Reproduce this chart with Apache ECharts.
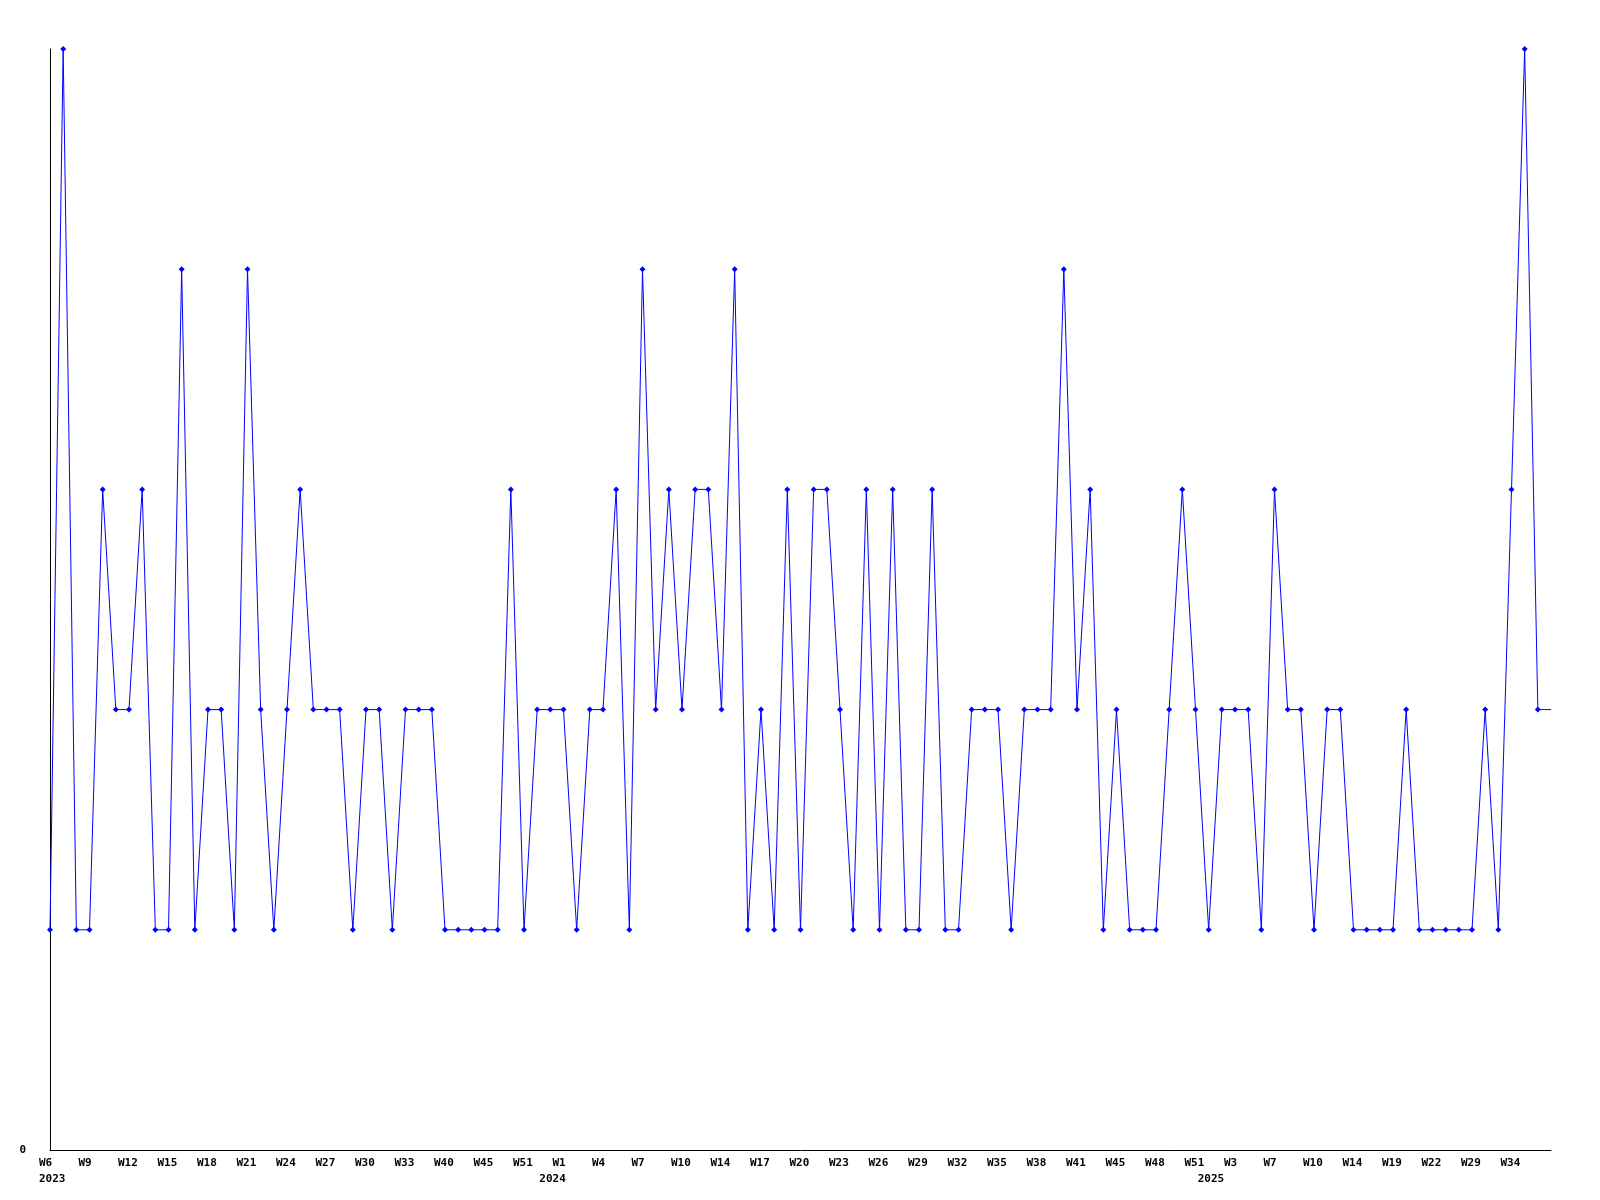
<!DOCTYPE html>
<html>
<head>
<meta charset="utf-8">
<script src="https://cdn.jsdelivr.net/npm/echarts@6/dist/echarts.min.js"></script>
<style>
html,body{margin:0;padding:0;background:#fff;}
#chart{width:1600px;height:1200px;}
</style>
</head>
<body>
<div id="chart"></div>
<script>
// Week labels for each data point (only every third one, plus year starts, is printed)
var weeks = [
  'W6','W7','W8','W9','W10','W11','W12','W13','W14','W15',
  'W16','W17','W18','W19','W20','W21','W22','W23','W24','W25',
  'W26','W27','W28','W29','W30','W31','W32','W33','W35','W38',
  'W40','W42','W44','W45','W47','W49','W51','W52','W0','W1',
  'W2','W3','W4','W5','W6','W7','W8','W9','W10','W11',
  'W13','W14','W15','W16','W17','W18','W19','W20','W21','W22',
  'W23','W24','W25','W26','W27','W28','W29','W30','W31','W32',
  'W33','W34','W35','W36','W37','W38','W39','W40','W41','W42',
  'W44','W45','W46','W47','W48','W49','W50','W51','W0','W2',
  'W3','W5','W6','W7','W8','W9','W10','W12','W13','W14',
  'W16','W18','W19','W20','W21','W22','W25','W27','W29','W31',
  'W33','W34','W35','W36','W37'
];
// Year label printed under specific points
var yearIndex = [0, 38, 88];
var yearLabel = ['2023', '2024', '2025'];
// Weekly counts
var counts = [
  1,5,1,1,3,2,2,3,1,1,
  4,1,2,2,1,4,2,1,2,3,
  2,2,2,1,2,2,1,2,2,2,
  1,1,1,1,1,3,1,2,2,2,
  1,2,2,3,1,4,2,3,2,3,
  3,2,4,1,2,1,3,1,3,3,
  2,1,3,1,3,1,1,3,1,1,
  2,2,2,1,2,2,2,4,2,3,
  1,2,1,1,1,2,3,2,1,2,
  2,2,1,3,2,2,1,2,2,1,
  1,1,1,2,1,1,1,1,1,2,
  1,3,5,2,2
];

var lastIdx = counts.length - 1;
var seriesData = counts.map(function (v, i) {
  return i === lastIdx ? {value: v, symbol: 'none'} : v;
});

function showWeek(idx) { return idx % 3 === 0 && idx < lastIdx; }

var chart = echarts.init(document.getElementById('chart'), null, {renderer: 'canvas'});
chart.setOption({
  animation: false,
  backgroundColor: '#ffffff',
  grid: {left: 50, right: 49, top: 49, bottom: 50, containLabel: false},
  xAxis: {
    type: 'category',
    data: weeks,
    boundaryGap: false,
    axisLine: {show: true, lineStyle: {color: '#000', width: 1}},
    axisTick: {show: false},
    splitLine: {show: false},
    axisLabel: {
      interval: function (idx) {
        return showWeek(idx) || yearIndex.indexOf(idx) >= 0;
      },
      hideOverlap: false,
      margin: 5,
      formatter: function (val, idx) {
        var yi = yearIndex.indexOf(idx);
        var top = showWeek(idx) ? '{w|' + val + '}' : '{w| }';
        return yi >= 0 ? top + '\n{w|' + yearLabel[yi] + '}' : top;
      },
      rich: {
        w: {
          width: 22, align: 'left', lineHeight: 16,
          fontFamily: 'DejaVu Sans Mono', fontWeight: 'bold', fontSize: 11, color: '#000'
        }
      }
    }
  },
  yAxis: {
    type: 'value',
    min: 0,
    max: 5,
    interval: 5,
    axisLine: {show: true, lineStyle: {color: '#000', width: 1}},
    axisTick: {show: false},
    splitLine: {show: false},
    axisLabel: {
      margin: 24,
      showMaxLabel: false,
      formatter: function (v) { return v === 0 ? '0' : ''; },
      fontFamily: 'DejaVu Sans Mono', fontWeight: 'bold', fontSize: 11, color: '#000'
    }
  },
  series: [{
    type: 'line',
    data: seriesData,
    showAllSymbol: true,
    symbol: 'diamond',
    symbolSize: 6,
    lineStyle: {color: '#0000ff', width: 1},
    itemStyle: {color: '#0000ff'},
    emphasis: {disabled: true}
  }]
});
</script>
</body>
</html>
